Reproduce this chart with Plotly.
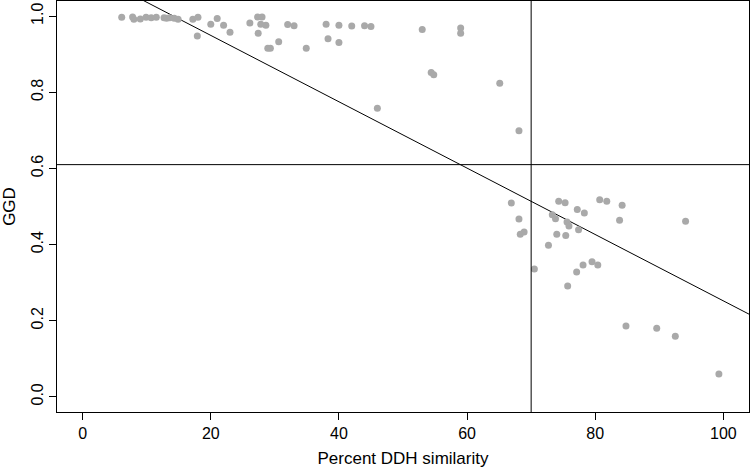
import plotly.graph_objects as go

# Data
ddh_percent = [6.1, 7.8, 8.0, 9.0, 9.9, 10.7, 11.5, 12.7, 13.1, 13.6, 14.3, 14.9,
               17.2, 18.0, 17.9, 20.0, 21.0, 22.0, 23.0, 26.1, 27.3, 28.0, 27.8, 28.6,
               27.4, 28.9, 29.3, 30.6, 32.0, 33.0, 34.9, 38.0, 38.3, 40.0, 40.0, 42.0,
               44.0, 45.0, 46.0, 53.0, 54.4, 54.8, 59.0, 59.0, 65.1, 68.1, 66.9, 68.1,
               68.3, 68.9, 70.5, 72.7, 73.3, 73.8, 74.0, 74.3, 75.3, 75.4, 75.6, 75.9,
               75.7, 77.1, 77.2, 77.4, 78.1, 78.3, 79.5, 80.4, 80.7, 81.8, 83.8, 84.2,
               84.8, 89.6, 92.5, 94.1, 99.3]
ggd = [0.997, 0.998, 0.992, 0.993, 0.997, 0.996, 0.997, 0.996, 0.995, 0.996, 0.995, 0.992,
       0.992, 0.997, 0.948, 0.979, 0.994, 0.976, 0.958, 0.982, 0.998, 0.998, 0.979, 0.976,
       0.955, 0.916, 0.916, 0.933, 0.978, 0.975, 0.916, 0.979, 0.941, 0.976, 0.931, 0.974,
       0.975, 0.973, 0.758, 0.965, 0.852, 0.846, 0.969, 0.955, 0.824, 0.699, 0.509, 0.467,
       0.427, 0.433, 0.336, 0.398, 0.478, 0.468, 0.427, 0.514, 0.510, 0.424, 0.459, 0.449,
       0.291, 0.328, 0.492, 0.439, 0.346, 0.483, 0.355, 0.346, 0.518, 0.514, 0.464, 0.503,
       0.186, 0.180, 0.159, 0.461, 0.060]

fit_intercept = 1.124
fit_slope = -0.00872
ggd_threshold = 0.61
ddh_threshold = 70

x_range = [-4, 104]
y_range = [-0.04, 1.04]
x_ticks = [0, 20, 40, 60, 80, 100]
y_ticks = [0.0, 0.2, 0.4, 0.6, 0.8, 1.0]

FONT = "Liberation Sans, Arial, Helvetica, sans-serif"

fig = go.Figure()

line_x = list(x_range)
line_y = [fit_intercept + fit_slope * v for v in line_x]
fig.add_trace(go.Scatter(x=line_x, y=line_y, mode="lines",
                         line=dict(color="black", width=1), hoverinfo="skip",
                         showlegend=False))

fig.add_trace(go.Scatter(x=ddh_percent, y=ggd, mode="markers",
                         marker=dict(color="#A9A9A9", size=7, line=dict(width=0)),
                         showlegend=False))

fig.add_hline(y=ggd_threshold, line=dict(color="black", width=1))
fig.add_vline(x=ddh_threshold, line=dict(color="black", width=1))

fig.update_layout(
    width=750, height=471,
    margin=dict(l=57, r=1, t=1, b=59),
    paper_bgcolor="white", plot_bgcolor="white",
    font=dict(family=FONT, size=16, color="black"),
    showlegend=False,
)

fig.update_xaxes(
    range=x_range, tickvals=x_ticks, ticktext=[str(v) for v in x_ticks],
    showgrid=False, zeroline=False,
    showline=True, linecolor="black", linewidth=1, mirror=True,
    ticks="outside", ticklen=7, tickcolor="black",
    tickfont=dict(size=16),
    title=dict(text="Percent DDH similarity", font=dict(size=17), standoff=10),
    automargin=False,
)
fig.update_yaxes(
    range=y_range, tickvals=y_ticks, ticktext=[f"{v:.1f}" for v in y_ticks],
    tickangle=-90,
    showgrid=False, zeroline=False,
    showline=True, linecolor="black", linewidth=1, mirror=True,
    ticks="outside", ticklen=7, tickcolor="black",
    tickfont=dict(size=16),
    title=dict(text="GGD", font=dict(size=17), standoff=11),
    automargin=False,
)

fig.write_html("out.html",
               config={"displayModeBar": False},
               post_script="document.body.style.margin='0px';document.body.style.overflow='hidden';")
